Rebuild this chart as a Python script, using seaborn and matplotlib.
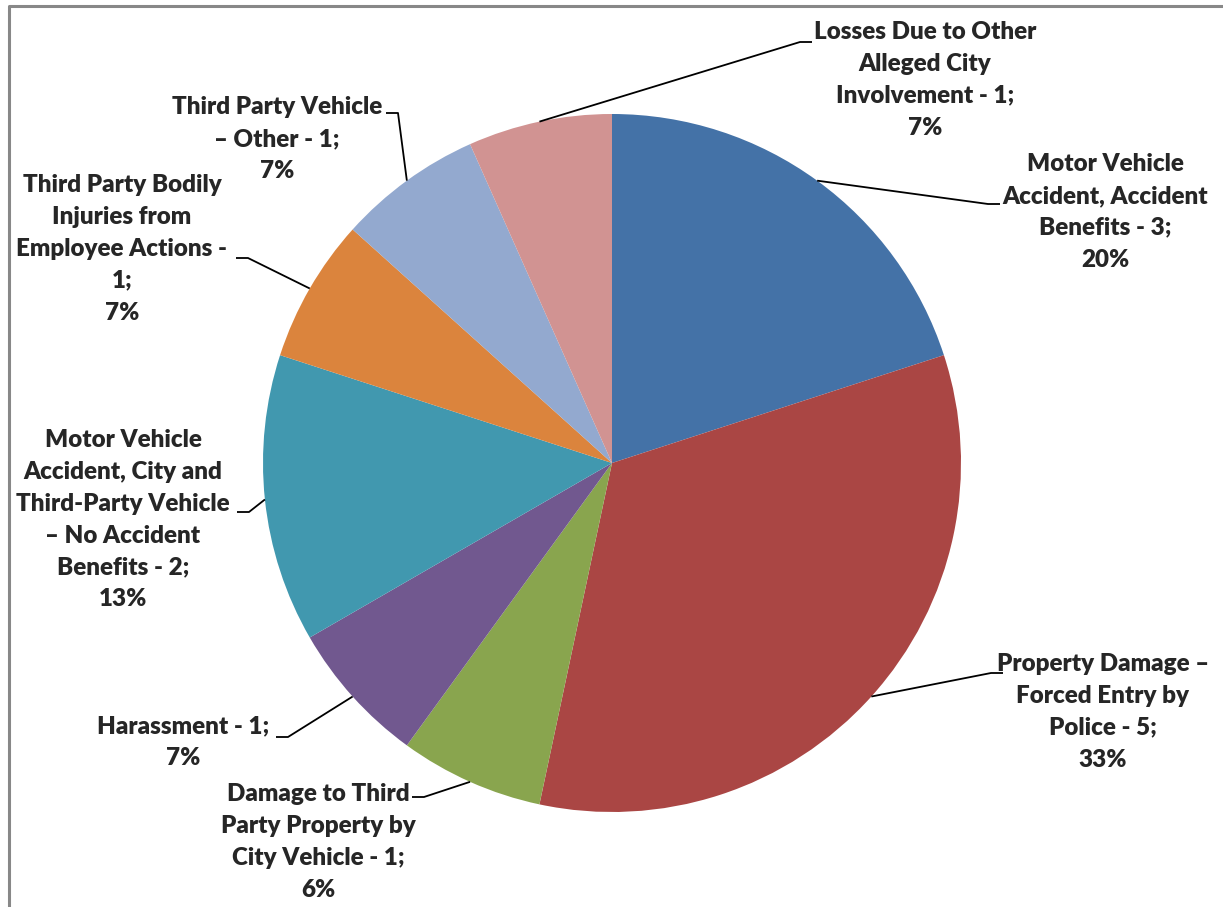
import matplotlib
matplotlib.use("Agg")
import matplotlib.pyplot as plt
import seaborn as sns
import numpy as np

# Claim categories (clockwise from 12 o'clock)
categories = [
    "Motor Vehicle\nAccident, Accident\nBenefits",
    "Property Damage \u2013\nForced Entry by\nPolice",
    "Damage to Third\nParty Property by\nCity Vehicle",
    "Harassment",
    "Motor Vehicle\nAccident, City and\nThird-Party Vehicle\n\u2013 No Accident\nBenefits",
    "Third Party Bodily\nInjuries from\nEmployee Actions -\n",
    "Third Party Vehicle\n\u2013 Other",
    "Losses Due to Other\nAlleged City\nInvolvement",
]
counts = [3, 5, 1, 1, 2, 1, 1, 1]
percents = [20, 33, 6, 7, 13, 7, 7, 7]

colors = ["#4472A7", "#AA4644", "#89A54E", "#71588F",
          "#4198AF", "#DB843D", "#93A9CF", "#D19392"]

W, H = 1223, 907
cx, cy, R = 612, H - 463, 349

# label centre (x, top of first line) and stub end of leader line, in pixels from top-left
label_pos = [(1105, 153), (1103, 653), (318, 783), (183, 715),
             (123, 429), (122, 174), (277, 96), (925, 21)]
stub_pos = [(1000, 204), (1003, 673), (412, 797), (276, 737),
            (237, 512), (236, 258), (386, 113), (812, 42)]
stub_dir = [1, 1, -1, -1, -1, -1, -1, 1]


def build_label(name, n, p):
    if name.endswith("-\n"):
        return f"{name}{n};\n{p}%"
    return f"{name} - {n};\n{p}%"


sns.set_theme(style="white")
plt.rcParams["font.family"] = ["Lato", "DejaVu Sans"]

fig = plt.figure(figsize=(W / 100, H / 100), dpi=100)
ax = fig.add_axes([0, 0, 1, 1])

wedges, _ = ax.pie(counts, colors=sns.color_palette(colors), startangle=90,
                   counterclock=False, center=(cx, cy), radius=R,
                   wedgeprops=dict(linewidth=0), frame=True)
ax.set_xlim(0, W)
ax.set_ylim(0, H)
ax.axis("off")

for w, name, n, p, (lx, ly), (sx, sy), d in zip(
        wedges, categories, counts, percents, label_pos, stub_pos, stub_dir):
    mid = np.deg2rad((w.theta1 + w.theta2) / 2)
    px, py = cx + R * np.cos(mid), cy + R * np.sin(mid)
    sy_ = H - sy
    knee_x = sx - d * 12
    ax.plot([px, knee_x, sx], [py, sy_, sy_], color="black", lw=1.3,
            solid_capstyle="butt")
    ax.text(lx, H - ly, build_label(name, n, p), ha="center", va="top",
            fontsize=17.4, fontweight="heavy", linespacing=1.55)

# chart frame (clipped at right and bottom like the source)
ax.plot([9, 9, W + 5], [-5, H - 6, H - 6], color="#888888", lw=2.2,
        clip_on=False)

fig.savefig("out.png", dpi=100, facecolor="white")
